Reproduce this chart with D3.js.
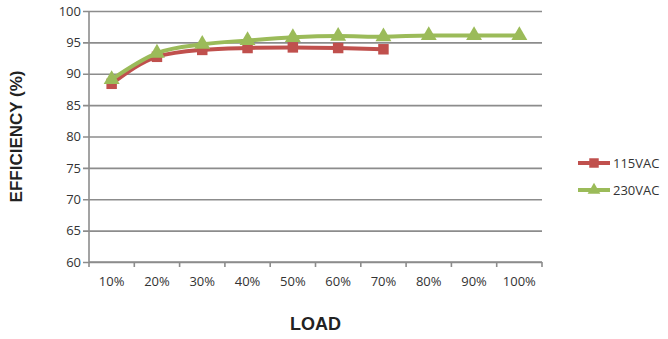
<!DOCTYPE html>
<html lang="en">
<head>
  <meta charset="UTF-8" />
  <title>efficiency</title>
  <script src="https://cdnjs.cloudflare.com/ajax/libs/d3/7.8.5/d3.min.js"></script>
  <style>
    body { margin: 0; background: #fff; }
    svg { display: block; overflow: visible; }
  </style>
</head>
<body>
  <svg id="svg"></svg>
</body>
<script>
  // load steps
  const loads = ["10%", "20%", "30%", "40%", "50%", "60%", "70%", "80%", "90%", "100%"];
  const yTicks = [60, 65, 70, 75, 80, 85, 90, 95, 100];
  const eff115 = [88.4, 92.7, 93.8, 94.1, 94.2, 94.1, 93.9];
  const eff230 = [89.1, 93.3, 94.7, 95.3, 95.8, 96.0, 95.9, 96.1, 96.1, 96.1];
  const seriesNames = ["115VAC", "230VAC"];
  const colors = { "115VAC": "#c0504d", "230VAC": "#9bbb59" };

  const width = 668, height = 339;
  const margin = { top: 11, left: 89, right: 126, bottom: 77 };
  const innerWidth = width - margin.left - margin.right;
  const innerHeight = height - margin.top - margin.bottom;

  const svg = d3.select("#svg").attr("width", width).attr("height", height);
  const g = svg.append("g").attr("transform", `translate(${margin.left},${margin.top})`);

  const xScale = d3.scaleBand().domain(loads).range([0, innerWidth]);
  const yScale = d3.scaleLinear().domain([60, 100]).range([innerHeight, 0]);

  // gridlines + y axis
  const yAxis = d3.axisLeft(yScale).tickValues(yTicks).tickSize(-innerWidth).tickPadding(8);
  const yG = g.append("g").call(yAxis);
  yG.selectAll(".tick line").attr("stroke", "#8c8c8c").attr("stroke-width", 1.6).attr("x1", -6);
  yG.select(".domain").attr("stroke", "#8c8c8c").attr("stroke-width", 1.6).attr("d", `M0,0V${innerHeight}`);
  yG.selectAll(".tick text").attr("font-family", "Open Sans").attr("font-size", 13).attr("fill", "#333");

  // x axis with ticks between bands
  const xG = g.append("g").attr("transform", `translate(0,${innerHeight})`);
  xG.append("line").attr("x1", 0).attr("x2", innerWidth).attr("stroke", "#8c8c8c").attr("stroke-width", 1.6);
  xG.selectAll(".xt").data(loads.concat(["end"])).join("line")
    .attr("x1", (d, i) => i * xScale.step()).attr("x2", (d, i) => i * xScale.step())
    .attr("y1", 0).attr("y2", 5).attr("stroke", "#8c8c8c").attr("stroke-width", 1.6);
  xG.selectAll(".xl").data(loads).join("text")
    .attr("x", d => xScale(d) + xScale.bandwidth() / 2)
    .attr("y", 24)
    .attr("text-anchor", "middle")
    .attr("font-family", "Open Sans").attr("font-size", 13).attr("fill", "#333")
    .text(d => d);

  const px = (d, i) => xScale(loads[i]) + xScale.bandwidth() / 2;
  const line = d3.line().x(px).y(d => yScale(d)).curve(d3.curveMonotoneX);

  const series = [
    { name: "115VAC", values: eff115, shape: d3.symbolSquare },
    { name: "230VAC", values: eff230, shape: d3.symbolTriangle }
  ];

  series.forEach(s => {
    g.append("path").datum(s.values)
      .attr("d", line).attr("fill", "none")
      .attr("stroke", colors[s.name]).attr("stroke-width", 4);
    g.selectAll(null).data(s.values).join("path")
      .attr("d", d3.symbol().type(s.shape).size(s.name === "115VAC" ? 110 : 110))
      .attr("transform", (d, i) => `translate(${px(d, i)},${yScale(d)})`)
      .attr("fill", colors[s.name]);
  });

  // legend
  const legend = svg.append("g").attr("transform", "translate(578,163)");
  seriesNames.forEach((name, i) => {
    const lg = legend.append("g").attr("transform", `translate(0,${i * 27})`);
    lg.append("line").attr("x1", 0).attr("x2", 32).attr("stroke", colors[name]).attr("stroke-width", 4);
    lg.append("path").attr("d", d3.symbol().type(i === 0 ? d3.symbolSquare : d3.symbolTriangle).size(i === 0 ? 90 : 70))
      .attr("transform", "translate(16,0)").attr("fill", colors[name]);
    lg.append("text").attr("x", 35).attr("y", 5)
      .attr("font-family", "Open Sans").attr("font-size", 13).attr("fill", "#333").text(name);
  });

  // axis titles
  svg.append("text").attr("x", margin.left + innerWidth / 2).attr("y", 330)
    .attr("text-anchor", "middle").attr("font-family", "Liberation Sans").attr("font-weight", "bold")
    .attr("font-size", 18).attr("fill", "#222").text("LOAD");
  svg.append("text").attr("transform", `translate(22,${margin.top + innerHeight / 2}) rotate(-90)`)
    .attr("text-anchor", "middle").attr("font-family", "Liberation Sans").attr("font-weight", "bold")
    .attr("font-size", 17).attr("fill", "#222").text("EFFICIENCY (%)");
</script>
</html>
